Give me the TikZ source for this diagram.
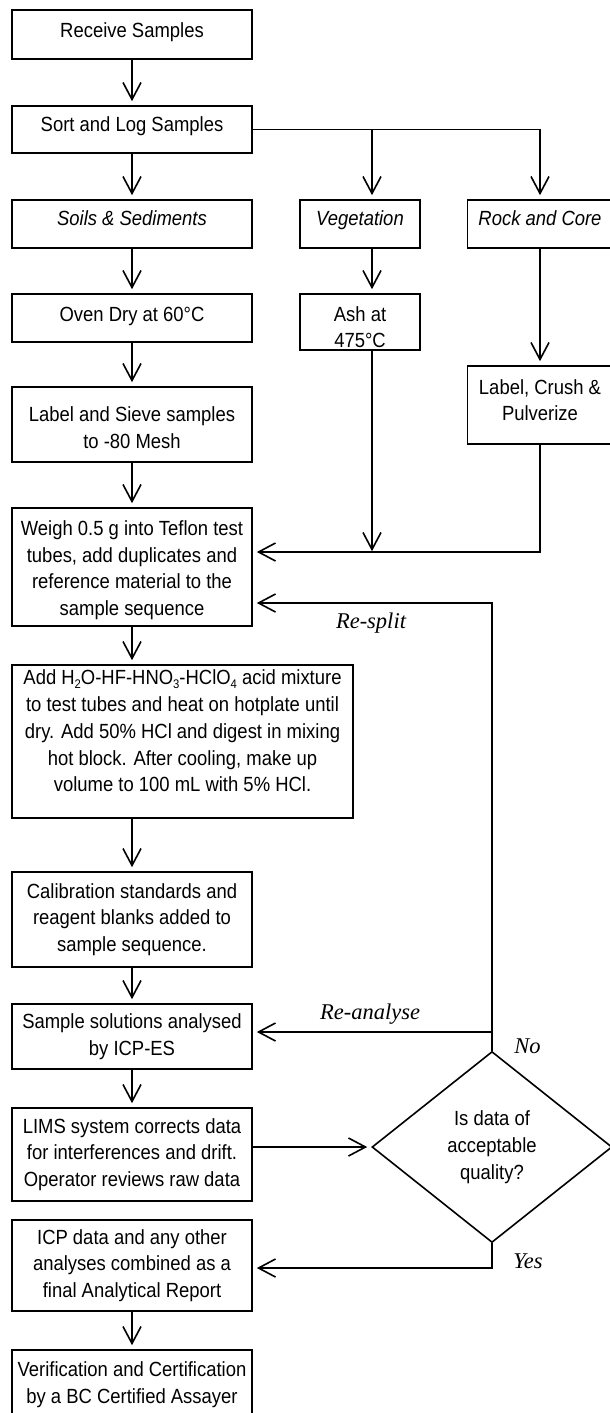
\documentclass[tikz,border=0pt]{standalone}
\usepackage{fontspec}
\setmainfont{Liberation Sans}[FakeStretch=0.9]
\newfontfamily\lblfont{Liberation Serif}
\usetikzlibrary{arrows.meta,shapes.geometric}
\newcommand\subd[1]{\raisebox{-0.18em}{\fontsize{12.5}{12.5}\selectfont #1}}
\newcommand\upd[1]{\rule[-#1]{0pt}{0pt}}
\newcommand\dnd[1]{\rule{0pt}{#1}}
\begin{document}
\begin{tikzpicture}[x=1pt,y=-1pt,line width=1.6pt,line join=miter,
  bx/.style={draw,line width=1.6pt,inner sep=0pt,align=center,
    font=\fontsize{20.5}{26.75}\selectfont},
  dia/.style={bx,shape=diamond},
  arr/.style={-{Straight Barb[length=17pt,width=18pt]},shorten >=4pt},
  lbl/.style={anchor=base,inner sep=0pt,font=\lblfont\itshape\fontsize{22.5}{27}\selectfont}]
\useasboundingbox (0,0) rectangle (610,1413);
\fill[white] (0,0) rectangle (610,1413);
\clip (0,0) rectangle (610,1413);
% boxes
\node[bx,minimum width=240pt,minimum height=49pt] (rec) at (132,34.5) {Receive Samples\upd{9.4pt}};
\node[bx,minimum width=240pt,minimum height=47pt] (sort) at (132,129.5) {Sort and Log Samples\upd{10.7pt}};
\node[bx,minimum width=240pt,minimum height=48pt] (soil) at (132,224) {\itshape Soils \& Sediments\upd{11pt}};
\node[bx,minimum width=120pt,minimum height=48pt] (veg) at (360,224) {\itshape Vegetation\upd{11.1pt}};
\node[bx,minimum width=145pt,minimum height=48pt] (rock) at (540,224) {\itshape Rock and Core\upd{11pt}};
\node[bx,minimum width=240pt,minimum height=48pt] (oven) at (132,318) {Oven Dry at 60°C\upd{7.7pt}};
\node[bx,minimum width=120pt,minimum height=56pt] (ash) at (360,322) {\dnd{25pt}Ash at\\475°C};
\node[bx,minimum width=240pt,minimum height=75pt] (lsv) at (132,424.5) {\dnd{20.8pt}Label and Sieve samples\\to -80 Mesh};
\node[bx,minimum width=145pt,minimum height=78pt] (lcp) at (540,405) {Label, Crush \&\\Pulverize\upd{10pt}};
\node[bx,minimum width=240pt,minimum height=118pt] (weigh) at (132,567) {\dnd{21.4pt}Weigh 0.5 g into Teflon test\\tubes, add duplicates and\\reference material to the\\sample sequence};
\node[bx,minimum width=341pt,minimum height=153pt] (add) at (182.5,741.5) {Add H\subd{2}O-HF-HNO\subd{3}-HClO\subd{4} acid mixture\\to test tubes and heat on hotplate until\\dry. Add 50\% HCl and digest in mixing\\hot block. After cooling, make up\\volume to 100 mL with 5\% HCl.\upd{21pt}};
\node[bx,minimum width=240pt,minimum height=95pt] (calib) at (132,919.5) {Calibration standards and\\reagent blanks added to\\sample sequence.};
\node[bx,minimum width=240pt,minimum height=65pt] (sample) at (132,1036.5) {Sample solutions analysed\\by ICP-ES};
\node[bx,minimum width=240pt,minimum height=93pt] (lims) at (132,1154.5) {LIMS system corrects data\\for interferences and drift.\\Operator reviews raw data};
\node[bx,minimum width=240pt,minimum height=91pt] (icp) at (132,1265.5) {ICP data and any other\\analyses combined as a\\final Analytical Report};
\node[bx,minimum width=240pt,minimum height=69pt] (verif) at (132,1384.5) {Verification and Certification\\by a BC Certified Assayer};
\node[dia,minimum width=240pt,minimum height=191pt] (dq) at (492,1147) {Is data of\\acceptable\\quality?};
% labels
\node[lbl] (lrs) at (371,628) {Re-split};
\node[lbl] (lra) at (370,1019) {Re-analyse};
\node[lbl] (lno) at (527.5,1053) {No};
\node[lbl] (lyes) at (528,1268) {Yes};
% helper coordinates
\coordinate (vx) at (372,129.5);
\coordinate (mj) at (372,552);
\coordinate (rs) at (492,603);
\coordinate (ra) at (492,1032);
\coordinate (ys) at (492,1268);
% connectors
\draw[arr] (rec) -- (sort);
\draw[arr] (sort) -- (soil);
\draw[arr] (sort.east) -| (rock.north);
\draw[arr] (vx) -- (vx |- veg.north);
\draw[arr] (soil) -- (oven);
\draw[arr] (oven) -- (lsv);
\draw[arr] (lsv) -- (weigh);
\draw[arr] (vx |- veg.south) -- (vx |- ash.north);
\draw[arr] (rock) -- (lcp);
\draw[arr,shorten >=0.8pt] (vx |- ash.south) -- (mj);
\draw[arr] (lcp.south) |- (weigh.east |- mj);
\draw[arr] (weigh.south) -- (weigh.south |- add.north);
\draw[arr] (add.south -| calib.north) -- (calib.north);
\draw[arr] (calib) -- (sample);
\draw[arr] (sample) -- (lims);
\draw[arr] (icp) -- (verif);
\draw[arr] (lims.east |- dq.west) -- (dq.west);
\draw[arr] (dq.north) -- (rs) -- (weigh.east |- rs);
\draw[arr] (ra) -- (sample.east |- ra);
\draw[arr] (dq.south) |- (icp.east |- ys);
\end{tikzpicture}
\end{document}
